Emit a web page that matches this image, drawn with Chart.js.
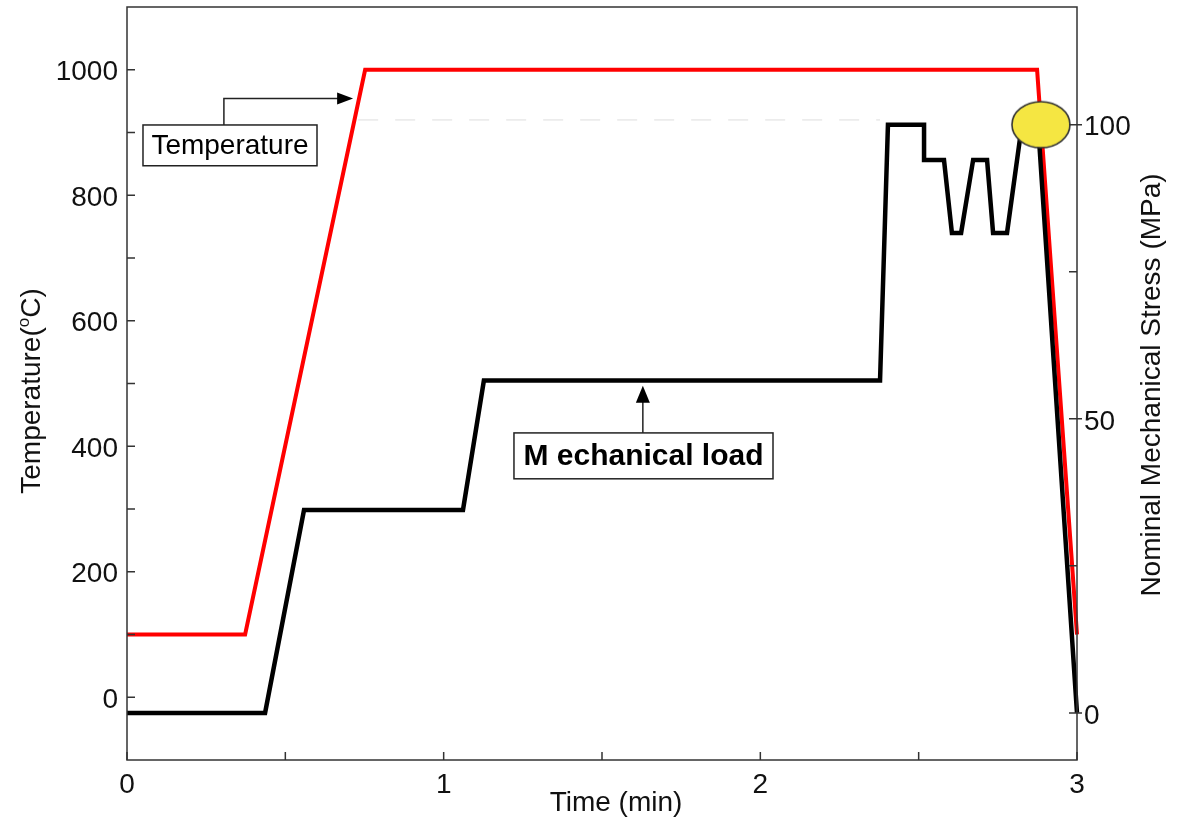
<!DOCTYPE html>
<html>
<head>
<meta charset="utf-8">
<script src="https://cdn.jsdelivr.net/npm/chart.js@4.4.1/dist/chart.umd.min.js"></script>
<style>
  html, body { margin: 0; padding: 0; background: #fff; }
  #wrap { width: 1179px; height: 821px; position: relative; }
</style>
</head>
<body>
<div id="wrap"><canvas id="c" width="1179" height="821"></canvas></div>
<script>
// ---------- data ----------
const timeTicks = [0, 0.5, 1, 1.5, 2, 2.5, 3];
const timeLabels = [0, 1, 2, 3];
const tempTicks = [0, 100, 200, 300, 400, 500, 600, 700, 800, 900, 1000];
const tempLabels = [0, 200, 400, 600, 800, 1000];
const stressTicks = [0, 25, 50, 75, 100];
const stressLabels = [0, 50, 100];

const tempTime   = [0, 0.373, 0.752, 2.874, 3.0];
const tempValues = [100, 100, 1000, 1000, 100];

const loadTime   = [0, 0.436, 0.559, 1.061, 1.127, 2.378, 2.403, 2.517, 2.517, 2.580, 2.605, 2.634, 2.672, 2.716, 2.735, 2.779, 2.826, 2.877, 3.0];
const loadValues = [0, 0, 34.5, 34.5, 56.5, 56.5, 100, 100, 94, 94, 81.6, 81.6, 94, 94, 81.6, 81.6, 100, 100, 0];

const refTime   = [0.73, 2.378];
const refValues = [100.8, 100.8];

const peakTime = [2.886];
const peakStress = [100];

const FONT = "'Liberation Sans', Arial, sans-serif";

// ellipse marker image
const marker = document.createElement('canvas');
marker.width = 62; marker.height = 50;
(function(){
  const m = marker.getContext('2d');
  m.beginPath();
  m.ellipse(31, 25, 29, 23, 0, 0, Math.PI * 2);
  m.fillStyle = '#f5e642';
  m.fill();
  m.lineWidth = 1.6;
  m.strokeStyle = '#333';
  m.stroke();
})();

const zip = (xs, ys) => xs.map((v, i) => ({ x: v, y: ys[i] }));

const decor = {
  id: 'decor',
  afterDatasetsDraw(chart) {
    const { ctx, chartArea: a, scales: { x, y, y1 } } = chart;
    ctx.save();
    // frame
    ctx.strokeStyle = '#333';
    ctx.lineWidth = 1.5;
    ctx.strokeRect(a.left, a.top, a.right - a.left, a.bottom - a.top);
    // ticks
    ctx.beginPath();
    tempTicks.forEach(v => { const p = y.getPixelForValue(v); ctx.moveTo(a.left, p); ctx.lineTo(a.left + 8, p); });
    timeTicks.forEach(v => { const p = x.getPixelForValue(v); ctx.moveTo(p, a.bottom); ctx.lineTo(p, a.bottom - 8); });
    stressTicks.forEach(v => {
      const p = y1.getPixelForValue(v);
      ctx.moveTo(a.right - 8, p); ctx.lineTo(a.right, p);
      if (stressLabels.includes(v)) { ctx.moveTo(a.right, p); ctx.lineTo(a.right + 5, p); }
    });
    ctx.stroke();

    // annotation: Temperature
    ctx.strokeStyle = '#222';
    ctx.fillStyle = '#000';
    ctx.lineWidth = 1.5;
    const tb = { x0: x.getPixelForValue(0.0505), x1: x.getPixelForValue(0.600), y0: y.getPixelForValue(912), y1: y.getPixelForValue(847) };
    const tav = x.getPixelForValue(0.306), tah = y.getPixelForValue(954), tat = x.getPixelForValue(0.714);
    ctx.beginPath();
    ctx.moveTo(tav, tb.y0); ctx.lineTo(tav, tah); ctx.lineTo(tat - 14, tah);
    ctx.stroke();
    ctx.beginPath();
    ctx.moveTo(tat, tah); ctx.lineTo(tat - 16, tah - 6); ctx.lineTo(tat - 16, tah + 6); ctx.closePath();
    ctx.fill();
    ctx.fillStyle = '#fff';
    ctx.fillRect(tb.x0, tb.y0, tb.x1 - tb.x0, tb.y1 - tb.y0);
    ctx.strokeRect(tb.x0, tb.y0, tb.x1 - tb.x0, tb.y1 - tb.y0);
    ctx.fillStyle = '#000';
    ctx.font = '28px ' + FONT;
    ctx.textAlign = 'center';
    ctx.textBaseline = 'middle';
    ctx.fillText('Temperature', (tb.x0 + tb.x1) / 2, (tb.y0 + tb.y1) / 2 + 1);

    // annotation: Mechanical load
    const mb = { x0: x.getPixelForValue(1.222), x1: x.getPixelForValue(2.04), y0: y1.getPixelForValue(47.6), y1: y1.getPixelForValue(39.8) };
    const max = x.getPixelForValue(1.629), mtip = y1.getPixelForValue(55.6);
    ctx.beginPath();
    ctx.moveTo(max, mb.y0); ctx.lineTo(max, mtip + 14);
    ctx.stroke();
    ctx.beginPath();
    ctx.moveTo(max, mtip); ctx.lineTo(max - 7, mtip + 17); ctx.lineTo(max + 7, mtip + 17); ctx.closePath();
    ctx.fill();
    ctx.fillStyle = '#fff';
    ctx.fillRect(mb.x0, mb.y0, mb.x1 - mb.x0, mb.y1 - mb.y0);
    ctx.strokeRect(mb.x0, mb.y0, mb.x1 - mb.x0, mb.y1 - mb.y0);
    ctx.fillStyle = '#000';
    ctx.font = 'bold 30px ' + FONT;
    ctx.fillText('M echanical load', (mb.x0 + mb.x1) / 2, (mb.y0 + mb.y1) / 2 + 1);
    ctx.restore();
  },
  afterDraw(chart) {
    const { ctx } = chart;
    ctx.save();
    ctx.fillStyle = '#111';
    ctx.textBaseline = 'middle';
    // x title
    ctx.font = '28px ' + FONT;
    ctx.textAlign = 'center';
    ctx.fillText('Time (min)', 616, 803);
    // left title with superscript o
    ctx.save();
    ctx.translate(32, 391);
    ctx.rotate(-Math.PI / 2);
    const p1 = 'Temperature(', p3 = 'C)';
    ctx.font = '28px ' + FONT;
    const w1 = ctx.measureText(p1).width, w3 = ctx.measureText(p3).width;
    ctx.font = '17px ' + FONT;
    const w2 = ctx.measureText('o').width;
    let sx = -(w1 + w2 + w3) / 2;
    ctx.textAlign = 'left';
    ctx.font = '28px ' + FONT;
    ctx.fillText(p1, sx, 0);
    ctx.font = '17px ' + FONT;
    ctx.fillText('o', sx + w1, -8);
    ctx.font = '28px ' + FONT;
    ctx.fillText(p3, sx + w1 + w2, 0);
    ctx.restore();
    // right title
    ctx.save();
    ctx.translate(1152, 385);
    ctx.rotate(-Math.PI / 2);
    ctx.textAlign = 'center';
    ctx.font = '28px ' + FONT;
    ctx.fillText('Nominal Mechanical Stress (MPa)', 0, 0);
    ctx.restore();
    ctx.restore();
  }
};

const noPadV = s => { s.paddingTop = 0; s.paddingBottom = 0; };
const noPadH = s => { s.paddingLeft = 0; s.paddingRight = 0; };

new Chart(document.getElementById('c'), {
  type: 'line',
  data: {
    datasets: [
      {
        label: 'marker', data: zip(peakTime, peakStress), yAxisID: 'y1',
        showLine: false, pointStyle: marker, pointRadius: 30, pointHoverRadius: 30
      },
      {
        label: 'Mechanical load', data: zip(loadTime, loadValues), yAxisID: 'y1',
        borderColor: '#000', borderWidth: 4.5, pointRadius: 0, tension: 0,
        borderJoinStyle: 'miter', clip: false
      },
      {
        label: 'Temperature', data: zip(tempTime, tempValues), yAxisID: 'y',
        borderColor: '#ff0000', borderWidth: 4, pointRadius: 0, tension: 0,
        borderJoinStyle: 'miter', clip: false
      },
      {
        label: 'ref', data: zip(refTime, refValues), yAxisID: 'y1',
        borderColor: '#dddddd', borderWidth: 1, borderDash: [20, 17], pointRadius: 0
      }
    ]
  },
  options: {
    responsive: false,
    animation: false,
    events: [],
    layout: { autoPadding: false, padding: { top: 7, left: 0, right: 0, bottom: 0 } },
    plugins: { legend: { display: false }, tooltip: { enabled: false } },
    scales: {
      x: {
        type: 'linear', min: 0, max: 3,
        grid: { display: false, drawTicks: false },
        border: { display: false },
        afterBuildTicks: s => { s.ticks = timeTicks.map(v => ({ value: v })); },
        afterFit: s => { s.height = 61; noPadH(s); },
        ticks: {
          padding: 8, maxRotation: 0, autoSkip: false, color: '#111',
          font: { family: FONT, size: 28 },
          callback: v => timeLabels.includes(v) ? String(v) : ''
        }
      },
      y: {
        type: 'linear', position: 'left', min: -100, max: 1100,
        grid: { display: false, drawTicks: false },
        border: { display: false },
        afterBuildTicks: s => { s.ticks = tempTicks.map(v => ({ value: v })); },
        afterFit: s => { s.width = 127; noPadV(s); },
        ticks: {
          padding: 9, autoSkip: false, color: '#111', labelOffset: 3,
          font: { family: FONT, size: 28 },
          callback: v => tempLabels.includes(v) ? String(v) : ''
        }
      },
      y1: {
        type: 'linear', position: 'right', min: -8, max: 120,
        grid: { display: false, drawTicks: false },
        border: { display: false },
        afterBuildTicks: s => { s.ticks = stressTicks.map(v => ({ value: v })); },
        afterFit: s => { s.width = 102; noPadV(s); },
        ticks: {
          padding: 7, autoSkip: false, color: '#111', labelOffset: 3,
          font: { family: FONT, size: 28 },
          callback: v => stressLabels.includes(v) ? String(v) : ''
        }
      }
    }
  },
  plugins: [decor]
});
</script>
</body>
</html>
